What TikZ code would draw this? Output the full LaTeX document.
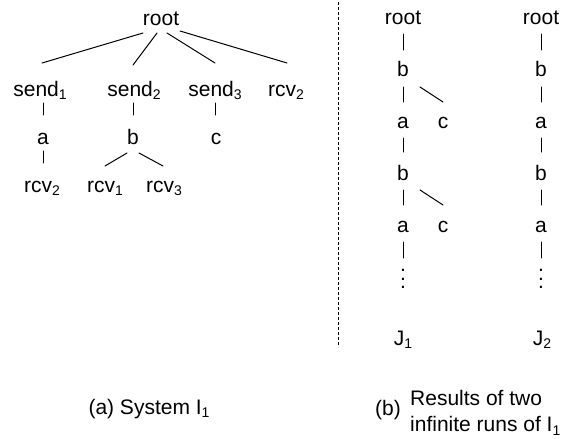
\documentclass[tikz,border=0pt]{standalone}
\usepackage{fontspec}
\setmainfont{Liberation Sans}
\usetikzlibrary{calc}
\newcommand\sbs[1]{\raisebox{-3.5pt}{\fontsize{14}{14}\selectfont #1}}
\tikzset{
  lbl/.style={inner sep=0pt, anchor=base},
  dotsnode/.style={inner sep=0pt, align=center, font=\fontsize{21}{8.5}\selectfont},
  edge/.style={line width=1pt, line cap=round},
  sep/.style={line width=0.9pt, densely dashed}
}
\begin{document}
\begin{tikzpicture}[x=1pt, y=-1pt, font=\fontsize{21}{26}\selectfont]
\useasboundingbox (0,0) rectangle (579,439);
% ---------- (a) System I1 ----------
\node[lbl] (root)  at (161,25) {root};
\node[lbl] (s1)    at (40,96)  {send\sbs1};
\node[lbl] (s2)    at (134,96) {send\sbs2};
\node[lbl] (s3)    at (215,96) {send\sbs3};
\node[lbl] (r2top) at (286,96) {rcv\sbs2};
\node[lbl] (a)     at (43,144) {a};
\node[lbl] (b)     at (133,144) {b};
\node[lbl] (c)     at (216,144) {c};
\node[lbl] (r2)    at (42,192) {rcv\sbs2};
\node[lbl] (r1)    at (105,192) {rcv\sbs1};
\node[lbl] (r3)    at (164,192) {rcv\sbs3};

\draw[edge] ($(root.base)+(-18,8)$) -- ($(s1.base)+(2,-33)$);
\draw[edge] ($(root.base)+(-4,8)$)  -- ($(s2.base)+(-1,-31)$);
\draw[edge] ($(root.base)+(6,8)$)   -- ($(s3.base)+(0,-33)$);
\draw[edge] ($(root.base)+(19,6)$)  -- ($(r2top.base)+(1,-33)$);
\draw[edge] ($(s1.base -| a.base)+(0,7)$) -- ($(a.base)+(0,-29)$);
\draw[edge] ($(s2.base -| b.base)+(0,7)$) -- ($(b.base)+(0,-29)$);
\draw[edge] ($(s3.base)+(0,7)$) -- ($(c.base -| s3.base)+(0,-29)$);
\draw[edge] ($(a.base)+(0,7)$) -- ($(r2.base -| a.base)+(0,-29)$);
\draw[edge] ($(b.base)+(-6,9)$) -- ($(r1.base)+(0,-26)$);
\draw[edge] ($(b.base)+(6,9)$)  -- ($(r3.base)+(-1,-26)$);

\node[lbl] (capA) at (149,414) {(a) System I\sbs1};

% ---------- separator ----------
\coordinate (septop) at (338,2);
\coordinate (sepbot) at (338,347);
\draw[sep] (septop) -- (sepbot);

% ---------- J1 ----------
\node[lbl] (jroot) at (403,24)  {root};
\node[lbl] (jb1)   at (403,76)  {b};
\node[lbl] (ja1)   at (403,128) {a};
\node[lbl] (jc1)   at (443,128) {c};
\node[lbl] (jb2)   at (403,180) {b};
\node[lbl] (ja2)   at (403,232) {a};
\node[lbl] (jc2)   at (443,232) {c};
\node[dotsnode] (jdots) at (403,279) {.\\.\\.};
\node[lbl] (J1)    at (403,345) {J\sbs1};

\draw[edge] ($(jroot.base)+(0,10)$) -- ($(jb1.base)+(0,-26)$);
\draw[edge] ($(jb1.base)+(0,11)$) -- ($(ja1.base)+(0,-26)$);
\draw[edge] ($(jb1.base)+(17,11)$) -- ($(jc1.base)+(0,-26)$);
\draw[edge] ($(ja1.base)+(0,10)$) -- ($(jb2.base)+(0,-28)$);
\draw[edge] ($(jb2.base)+(0,10)$) -- ($(ja2.base)+(0,-27)$);
\draw[edge] ($(jb2.base)+(17,10)$) -- ($(jc2.base)+(0,-27)$);
\draw[edge] ($(ja2.base)+(0,10)$) -- ($(jdots.center)+(0,-21)$);

% ---------- J2 ----------
\node[lbl] (kroot) at (541,24)  {root};
\node[lbl] (kb1)   at (541,76)  {b};
\node[lbl] (ka1)   at (541,128) {a};
\node[lbl] (kb2)   at (541,180) {b};
\node[lbl] (ka2)   at (541,232) {a};
\node[dotsnode] (kdots) at (541,279) {.\\.\\.};
\node[lbl] (J2)    at (542,345) {J\sbs2};

\draw[edge] ($(kroot.base)+(0,10)$) -- ($(kb1.base)+(0,-26)$);
\draw[edge] ($(kb1.base)+(0,11)$) -- ($(ka1.base)+(0,-26)$);
\draw[edge] ($(ka1.base)+(0,10)$) -- ($(kb2.base)+(0,-28)$);
\draw[edge] ($(kb2.base)+(0,10)$) -- ($(ka2.base)+(0,-27)$);
\draw[edge] ($(ka2.base)+(0,10)$) -- ($(kdots.center)+(0,-21)$);

% ---------- (b) caption ----------
\node[inner sep=0pt, anchor=west] (capBl) at (375,410) {(b)};
\node[inner sep=0pt, anchor=west, align=left] (capB) at (410,413)
  {Results of two\\infinite runs of I\sbs1};
\end{tikzpicture}
\end{document}
